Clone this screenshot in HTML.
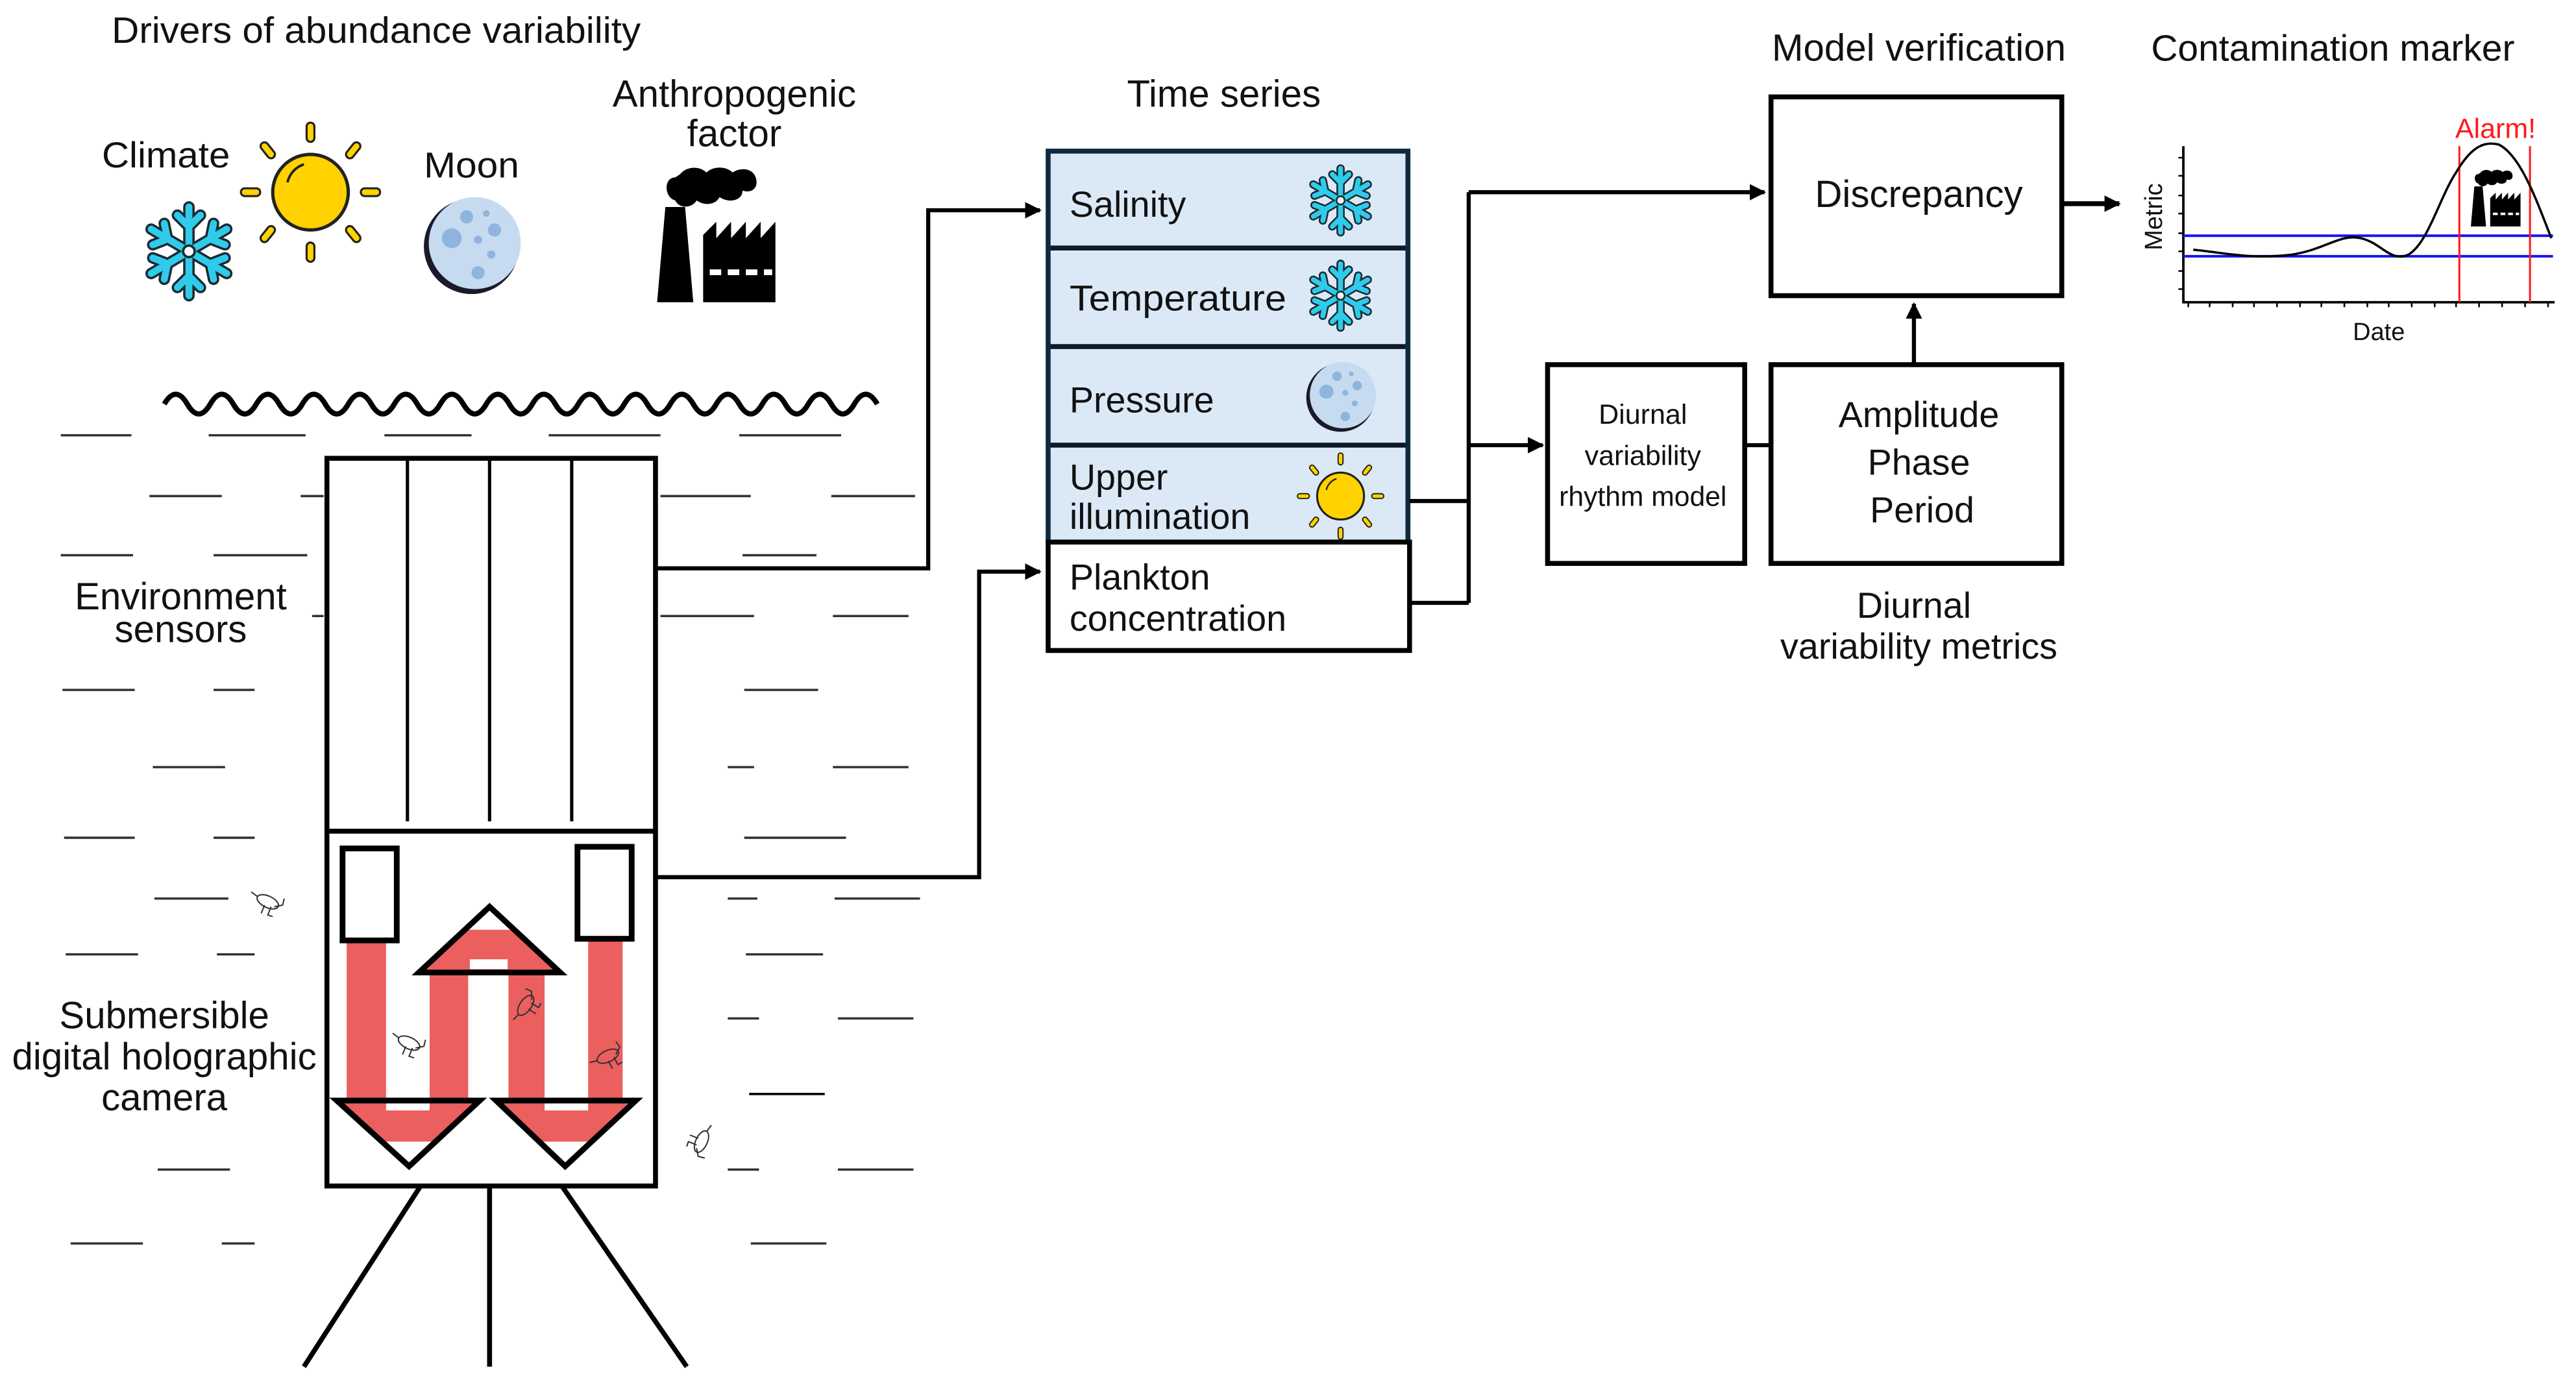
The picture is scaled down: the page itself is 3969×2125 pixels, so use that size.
<!DOCTYPE html>
<html><head><meta charset="utf-8"><style>
html,body{margin:0;padding:0;background:#fff;}
svg{display:block;}
text{font-family:"Liberation Sans",Arial,sans-serif;fill:#111;}
</style></head><body>
<svg width="3969" height="2125" viewBox="0 0 1568 839.5" xmlns="http://www.w3.org/2000/svg">
<defs>
<g id="snow">
  <g stroke="#1a2a33" stroke-width="7" stroke-linecap="round" fill="none">
    <path d="M0,-27V27M-23,-13.5L23,13.5M-23,13.5L23,-13.5"/>
    <path d="M-7,-22L0,-15L7,-22M-7,22L0,15L7,22M-22,-4L-13,-7.5L-15,-17M22,4L13,7.5L15,17M-22,4L-13,7.5L-15,17M22,-4L13,-7.5L15,-17"/>
  </g>
  <g stroke="#2fcbea" stroke-width="4.2" stroke-linecap="round" fill="none">
    <path d="M0,-27V27M-23,-13.5L23,13.5M-23,13.5L23,-13.5"/>
    <path d="M-7,-22L0,-15L7,-22M-7,22L0,15L7,22M-22,-4L-13,-7.5L-15,-17M22,4L13,7.5L15,17M-22,4L-13,7.5L-15,17M22,-4L13,-7.5L15,-17"/>
  </g>
  <circle r="3.5" fill="#fff" stroke="#1a2a33" stroke-width="1.5"/>
</g>
<g id="sun">
  <g stroke="#222" stroke-width="6" stroke-linecap="round">
    <path d="M0,-40V-33M0,33V40M-40,0H-33M33,0H40M-28,-28L-24,-23M28,28L24,23M-28,28L-24,23M28,-28L24,-23"/>
  </g>
  <g stroke="#ffd200" stroke-width="3.5" stroke-linecap="round">
    <path d="M0,-40V-33M0,33V40M-40,0H-33M33,0H40M-28,-28L-24,-23M28,28L24,23M-28,28L-24,23M28,-28L24,-23"/>
  </g>
  <circle r="23" fill="#ffd200" stroke="#222" stroke-width="2"/>
  <path d="M-14,-6A15,15 0 0 1 -4,-17" stroke="#222" stroke-width="1.5" fill="none"/>
</g>
<g id="moon">
  <circle r="29" fill="#1a1a2a"/>
  <circle cx="2" cy="-2" r="28" fill="#c6dbf0"/>
  <circle cx="-3" cy="-18" r="4" fill="#8fb4dd"/>
  <circle cx="-12" cy="-5" r="6" fill="#8fb4dd"/>
  <circle cx="4" cy="-4" r="2.5" fill="#8fb4dd"/>
  <circle cx="14" cy="-10" r="4" fill="#8fb4dd"/>
  <circle cx="12" cy="5" r="2.5" fill="#8fb4dd"/>
  <circle cx="4" cy="16" r="4" fill="#8fb4dd"/>
  <circle cx="9" cy="-20" r="2" fill="#8fb4dd"/>
</g>
<g id="factory">
  <path d="M11,0C4,0 4,12 11,14C14,20 22,18 24,14C30,18 36,16 38,12C44,16 52,14 52,8C58,10 62,6 60,0C58,-6 50,-6 46,-3C42,-7 34,-7 30,-3C26,-7 18,-7 14,-2Z" fill="#000" transform="translate(0,7)"/>
  <path d="M0,83L5,25H17L22,83Z" fill="#000"/>
  <path d="M28,83V42L36,34V44L45,34V44L54,34V44L63,34V44L72,34V83Z" fill="#000"/>
  <g fill="#fff"><rect x="32" y="63" width="7" height="3.5"/><rect x="43" y="63" width="7" height="3.5"/><rect x="54" y="63" width="7" height="3.5"/><rect x="65" y="63" width="5" height="3.5"/></g>
</g>
<g id="bug" stroke="#333" stroke-width="0.8" fill="none">
  <ellipse cx="0" cy="0" rx="7" ry="3.5" transform="rotate(25)"/>
  <path d="M-6,-3L-10,-6M4,3L9,2L10,-2M2,3L0,8L3,9M-2,2L-4,7"/>
</g>
<clipPath id="tU"><polygon points="298,550 253,592 343,592"/></clipPath>
<clipPath id="tL"><polygon points="203,670 294,670 249,712"/></clipPath>
<clipPath id="tR"><polygon points="300,670 389,670 344,712"/></clipPath>
<marker id="ar" viewBox="0 0 10 10" refX="9" refY="5" markerWidth="10" markerHeight="10" markerUnits="userSpaceOnUse" orient="auto"><path d="M0,0L10,5L0,10Z" fill="#000"/></marker>
</defs>

<text x="68" y="26" font-size="22.5" textLength="322" lengthAdjust="spacingAndGlyphs">Drivers of abundance variability</text>
<text x="62" y="102" font-size="22" textLength="78" lengthAdjust="spacingAndGlyphs">Climate</text>
<use href="#snow" x="115" y="153"/>
<use href="#sun" x="189" y="117"/>
<text x="258" y="108" font-size="22" textLength="58" lengthAdjust="spacingAndGlyphs">Moon</text>
<use href="#moon" x="287" y="150"/>
<text x="447" y="65" font-size="23" text-anchor="middle">Anthropogenic</text>
<text x="447" y="89" font-size="23" text-anchor="middle">factor</text>
<use href="#factory" x="400" y="101"/>

<path d="M100,246 q7,-12 14,0 t14,0 t14,0 t14,0 t14,0 t14,0 t14,0 t14,0 t14,0 t14,0 t14,0 t14,0 t14,0 t14,0 t14,0 t14,0 t14,0 t14,0 t14,0 t14,0 t14,0 t14,0 t14,0 t14,0 t14,0 t14,0 t14,0 t14,0 t14,0 t14,0 t14,0" fill="none" stroke="#000" stroke-width="3.2" stroke-linejoin="round"/>

<g stroke="#333" stroke-width="1.4">
<path d="M37,265H80M127,265H186M234,265H287M334,265H402M450,265H512"/>
<path d="M91,302H135M183,302H197M402,302H457M506,302H557"/>
<path d="M37,338H81M130,338H187M452,338H497"/>
<path d="M190,375H197M402,375H459M507,375H553"/>
<path d="M38,420H82M130,420H155M453,420H498"/>
<path d="M93,467H137M443,467H459M507,467H553"/>
<path d="M39,510H82M130,510H155M453,510H515"/>
<path d="M94,547H139M443,547H461M508,547H560"/>
<path d="M40,581H84M132,581H155M454,581H501"/>
<path d="M443,620H462M510,620H556"/>
<path d="M456,666H502" stroke="#000"/>
<path d="M96,712H140M443,712H462M510,712H556"/>
<path d="M43,757H87M135,757H155M457,757H503"/>
</g>
<text x="110" y="371" font-size="23" text-anchor="middle">Environment</text>
<text x="110" y="391" font-size="23" text-anchor="middle">sensors</text>
<text x="100" y="626" font-size="23" text-anchor="middle">Submersible</text>
<text x="100" y="651" font-size="23" text-anchor="middle">digital holographic</text>
<text x="100" y="676" font-size="23" text-anchor="middle">camera</text>
<use href="#bug" x="163" y="549"/>
<g transform="translate(427,695) rotate(90)"><use href="#bug"/></g>

<rect x="199" y="279" width="200" height="443" fill="none" stroke="#000" stroke-width="3"/>
<path d="M248,279V500M298,279V500M348,279V500" stroke="#000" stroke-width="2"/>
<path d="M199,506H399" stroke="#000" stroke-width="3"/>
<g fill="#ec5f5f">
<rect x="211" y="574" width="24" height="96"/>
<rect x="261.5" y="592" width="23.5" height="78"/>
<rect x="309.5" y="592" width="22" height="78"/>
<rect x="358" y="572" width="21" height="98"/>
<rect x="240" y="566" width="120" height="26" clip-path="url(#tU)"/>
<rect x="190" y="670" width="120" height="25" clip-path="url(#tL)"/>
<rect x="290" y="670" width="110" height="25" clip-path="url(#tR)"/>
</g>
<g fill="#fff"><rect x="286" y="584" width="23" height="6"/><rect x="235" y="671" width="26.5" height="5"/><rect x="331.5" y="671" width="26.5" height="5"/></g>
<g fill="none" stroke="#000" stroke-width="3.5" stroke-linejoin="miter">
<polygon points="298,552 255,592 341,592"/>
<polygon points="205,670 292,670 249,710"/>
<polygon points="302,670 387,670 344,710"/>
</g>
<rect x="208.5" y="516.5" width="33" height="56" fill="#fff" stroke="#000" stroke-width="3.5"/>
<rect x="351.5" y="515.5" width="33" height="56" fill="#fff" stroke="#000" stroke-width="3.5"/>
<use href="#bug" x="249" y="635"/>
<g transform="translate(320,612) rotate(-80)"><use href="#bug"/></g>
<g transform="translate(370,643) rotate(-50)"><use href="#bug"/></g>
<path d="M256,722L185,832M298,722V832M342,722L418,832" stroke="#000" stroke-width="3"/>

<path d="M399,346H565V128H633" fill="none" stroke="#000" stroke-width="2.5" marker-end="url(#ar)"/>
<path d="M399,534H596V348H633" fill="none" stroke="#000" stroke-width="2.5" marker-end="url(#ar)"/>

<text x="745" y="65" font-size="23" text-anchor="middle">Time series</text>
<rect x="638" y="92" width="219" height="238" fill="#dbe9f7"/>
<g stroke="#0e1a26" stroke-width="3" fill="none">
<path d="M638,151H857M638,211H857M638,271H857"/>
</g>
<rect x="638" y="92" width="219" height="238" fill="none" stroke="#0d2a40" stroke-width="3"/>
<rect x="638" y="330" width="220" height="66" fill="#fff" stroke="#000" stroke-width="3"/>
<text x="651" y="132" font-size="22">Salinity</text>
<text x="651" y="189" font-size="22" textLength="132" lengthAdjust="spacingAndGlyphs">Temperature</text>
<text x="651" y="251" font-size="22">Pressure</text>
<text x="651" y="298" font-size="22">Upper</text>
<text x="651" y="322" font-size="22">illumination</text>
<text x="651" y="359" font-size="22">Plankton</text>
<text x="651" y="384" font-size="22">concentration</text>
<g transform="translate(816,122) scale(0.72)"><use href="#snow"/></g>
<g transform="translate(816,180) scale(0.72)"><use href="#snow"/></g>
<g transform="translate(816,242) scale(0.72)"><use href="#moon"/></g>
<g transform="translate(816,302) scale(0.62)"><use href="#sun"/></g>

<path d="M858,305H894M858,367H894M894,367V117" fill="none" stroke="#000" stroke-width="2.5"/>
<path d="M894,117H1074" fill="none" stroke="#000" stroke-width="2.5" marker-end="url(#ar)"/>
<path d="M894,271H939" fill="none" stroke="#000" stroke-width="2.5" marker-end="url(#ar)"/>
<path d="M1062,271H1078" stroke="#000" stroke-width="2.5"/>
<path d="M1165,221V185" fill="none" stroke="#000" stroke-width="2.5" marker-end="url(#ar)"/>
<path d="M1256,124H1290" fill="none" stroke="#000" stroke-width="3" marker-end="url(#ar)"/>

<rect x="942" y="222" width="120" height="121" fill="#fff" stroke="#000" stroke-width="3"/>
<text x="1000" y="258" font-size="17" text-anchor="middle">Diurnal</text>
<text x="1000" y="283" font-size="17" text-anchor="middle">variability</text>
<text x="1000" y="308" font-size="17" text-anchor="middle" textLength="102" lengthAdjust="spacingAndGlyphs">rhythm model</text>
<rect x="1078" y="222" width="177" height="121" fill="#fff" stroke="#000" stroke-width="3"/>
<text x="1168" y="260" font-size="22" text-anchor="middle">Amplitude</text>
<text x="1168" y="289" font-size="22" text-anchor="middle">Phase</text>
<text x="1170" y="318" font-size="22" text-anchor="middle">Period</text>
<text x="1165" y="376" font-size="22" text-anchor="middle">Diurnal</text>
<text x="1168" y="401" font-size="22" text-anchor="middle">variability metrics</text>
<rect x="1078" y="59" width="177" height="121" fill="#fff" stroke="#000" stroke-width="3"/>
<text x="1168" y="126" font-size="23" text-anchor="middle">Discrepancy</text>
<text x="1168" y="37" font-size="23" text-anchor="middle">Model verification</text>
<text x="1420" y="37" font-size="22.5" text-anchor="middle">Contamination marker</text>

<path d="M1329,89V184H1555" fill="none" stroke="#000" stroke-width="1.5"/>
<g stroke="#000" stroke-width="1">
<path d="M1326,96H1329M1326,107H1329M1326,119H1329M1326,130H1329M1326,142H1329M1326,153H1329M1326,165H1329M1326,176H1329"/>
<path d="M1332,184V187M1345,184V187M1359,184V187M1372,184V187M1386,184V187M1400,184V187M1413,184V187M1427,184V187M1441,184V187M1454,184V187M1468,184V187M1482,184V187M1495,184V187M1509,184V187M1523,184V187M1537,184V187M1551,184V187"/>
</g>
<path d="M1329,143.5H1554M1329,156H1554" stroke="#1515ee" stroke-width="1.6"/>
<path d="M1497,89V184M1540,89V184" stroke="#ff1a1a" stroke-width="1.2"/>
<path d="M1335,152C1355,154 1370,158 1395,155C1415,152 1425,142 1437,145C1450,148 1455,160 1466,155C1478,148 1485,120 1495,105C1505,88 1513,86 1521,88C1535,95 1545,125 1553,145" fill="none" stroke="#000" stroke-width="1.4"/>
<g transform="translate(1504,103) scale(0.42)"><use href="#factory"/></g>
<text x="1519" y="84" font-size="17" text-anchor="middle" style="fill:#ff1a1a">Alarm!</text>
<text transform="translate(1316,132) rotate(-90)" font-size="15" text-anchor="middle">Metric</text>
<text x="1448" y="207" font-size="15" text-anchor="middle">Date</text>
</svg>
</body></html>
